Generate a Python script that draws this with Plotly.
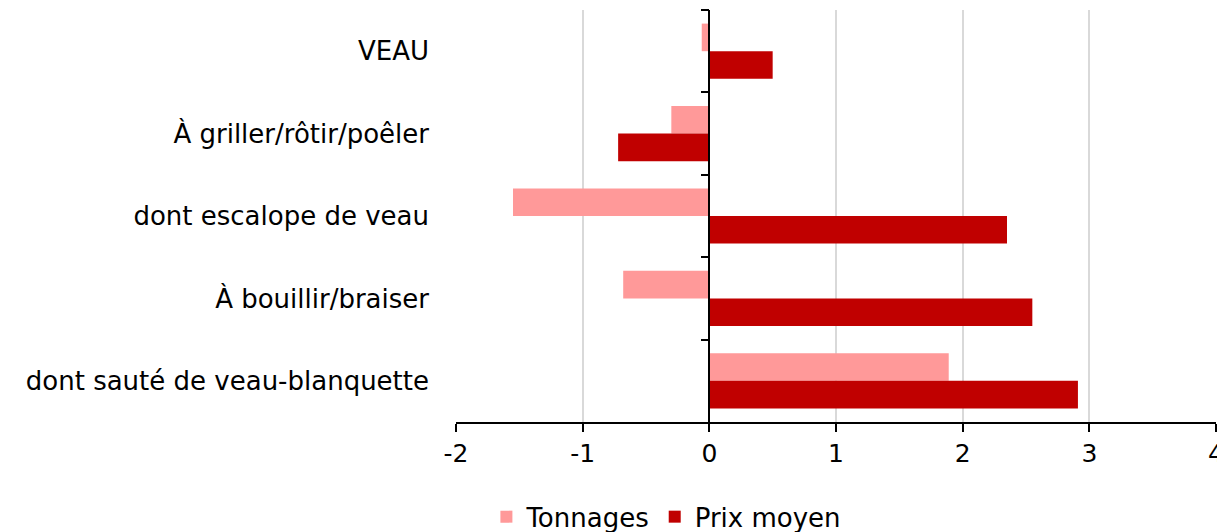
import plotly.graph_objects as go

# categories, top to bottom
categories = ["VEAU", "À griller/rôtir/poêler", "dont escalope de veau",
              "À bouillir/braiser", "dont sauté de veau-blanquette"]
tonnages = [-0.06, -0.30, -1.55, -0.68, 1.89]
prix_moyen = [0.50, -0.72, 2.35, 2.55, 2.91]
x_ticks = [-2, -1, 0, 1, 2, 3, 4]
x_labels = ["-2", "-1", "0", "1", "2", "3", "4"]

fnt = dict(family="DejaVu Sans, sans-serif", size=26, color="#000000")

fig = go.Figure()
fig.add_trace(go.Bar(y=categories, x=tonnages, name="Tonnages", orientation="h",
                     marker=dict(color="#FF9999", line=dict(width=0))))
fig.add_trace(go.Bar(y=categories, x=prix_moyen, name="Prix moyen", orientation="h",
                     marker=dict(color="#C00000", line=dict(width=0))))
# helper trace so the second y axis (drawn at x=0) shows its line and ticks
fig.add_trace(go.Scatter(y=categories, x=[0] * len(categories), mode="none",
                         yaxis="y2", showlegend=False, hoverinfo="skip"))

# the page body has an 8px margin, so the figure is a bit smaller and shifted
fig.update_layout(
    width=1217, height=524,
    margin=dict(l=448, r=9, t=2, b=110, autoexpand=False),
    plot_bgcolor="white", paper_bgcolor="white",
    font=fnt,
    barmode="group", bargap=0.33, bargroupgap=0,
    xaxis=dict(range=[-2, 4], tickvals=x_ticks, ticktext=x_labels, showgrid=True,
               gridcolor="#d9d9d9", gridwidth=1.5, zeroline=False, showline=True,
               linecolor="#000000", linewidth=1.5, ticks="outside", ticklen=8,
               tickcolor="#000000", tickwidth=1.5, ticklabeloverflow="allow",
               tickfont=dict(family="DejaVu Sans, sans-serif", size=25, color="#000000"),
               automargin=False),
    yaxis=dict(type="category", categoryarray=categories, autorange="reversed",
               showline=False, ticks="", showgrid=False, tickfont=fnt,
               ticklabelstandoff=26, automargin=False),
    yaxis2=dict(type="category", categoryarray=categories, range=[4.5, -0.5],
                overlaying="y", anchor="free", position=1 / 3, side="left",
                showticklabels=False, showline=True, linecolor="#000000", linewidth=1.5,
                ticks="outside", tickson="boundaries", ticklen=8, tickcolor="#000000",
                tickwidth=1.5, showgrid=False, automargin=False),
    legend=dict(orientation="h", x=0.04, xanchor="left", y=-0.23, yanchor="middle",
                font=dict(family="DejaVu Sans, sans-serif", size=26, color="#000000"),
                itemwidth=30, traceorder="normal"),
)

fig.write_html("out.html")
